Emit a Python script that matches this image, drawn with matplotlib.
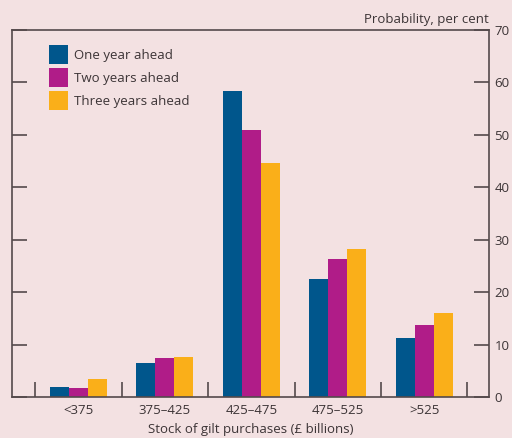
import matplotlib.pyplot as plt
import numpy as np

# Probability (per cent) of stock of gilt purchases, by horizon
categories = ["<375", "375\u2013425", "425\u2013475", "475\u2013525", ">525"]
one_year = [1.9, 6.5, 58.4, 22.5, 11.3]
two_years = [1.7, 7.4, 50.9, 26.3, 13.7]
three_years = [3.4, 7.6, 44.6, 28.2, 16.0]
series_names = ["One year ahead", "Two years ahead", "Three years ahead"]
colors = ["#00568C", "#B01C88", "#FAAF19"]

bg = "#F3E1E2"
ink = "#3C3436"
plt.rcParams["font.family"] = ["Open Sans", "DejaVu Sans"]

fig = plt.figure(figsize=(5.12, 4.38), dpi=100, facecolor=bg)
ax = fig.add_axes([12 / 512, 41 / 438, 477 / 512, 367 / 438])
ax.set_facecolor(bg)

x = np.arange(len(categories))
w = 0.22
for i, (vals, name) in enumerate(zip([one_year, two_years, three_years], series_names)):
    ax.bar(x + (i - 1) * w, vals, width=w, color=colors[i], label=name)

ax.set_xlim(-0.77, 4.75)
ax.set_ylim(0, 70)

for s in ax.spines.values():
    s.set_color("#54494B")
    s.set_linewidth(1.2)

# y axis: labels on the right, ticks inward both sides
ax.set_yticks(range(0, 71, 10))
ax.tick_params(axis="y", which="major", direction="in", length=11, width=1.2,
               color="#54494B", left=True, right=True, labelleft=False,
               labelright=True, labelsize=9.5, labelcolor=ink, pad=4)

# x axis: labels at category centres, ticks at group boundaries
ax.set_xticks(x)
ax.set_xticklabels(categories)
ax.set_xticks(np.arange(-0.5, len(categories)), minor=True)
ax.tick_params(axis="x", which="major", length=0, labelsize=9.5, labelcolor=ink, pad=5)
ax.tick_params(axis="x", which="minor", direction="in", length=11, width=1.2,
               color="#54494B")

ax.set_xlabel("Stock of gilt purchases (\u00a3 billions)", fontsize=9.5, color=ink, labelpad=4)
ax.text(1.0, 1.012, "Probability, per cent", transform=ax.transAxes,
        ha="right", va="bottom", fontsize=9.5, color=ink)

ax.legend(loc="upper left", bbox_to_anchor=(0.078, 0.958), frameon=False,
          fontsize=9.5, labelcolor=ink, handlelength=1.44, handleheight=1.84,
          handletextpad=0.45, labelspacing=0.3, borderaxespad=0, borderpad=0)

fig.savefig("out.png", dpi=100, facecolor=bg)
